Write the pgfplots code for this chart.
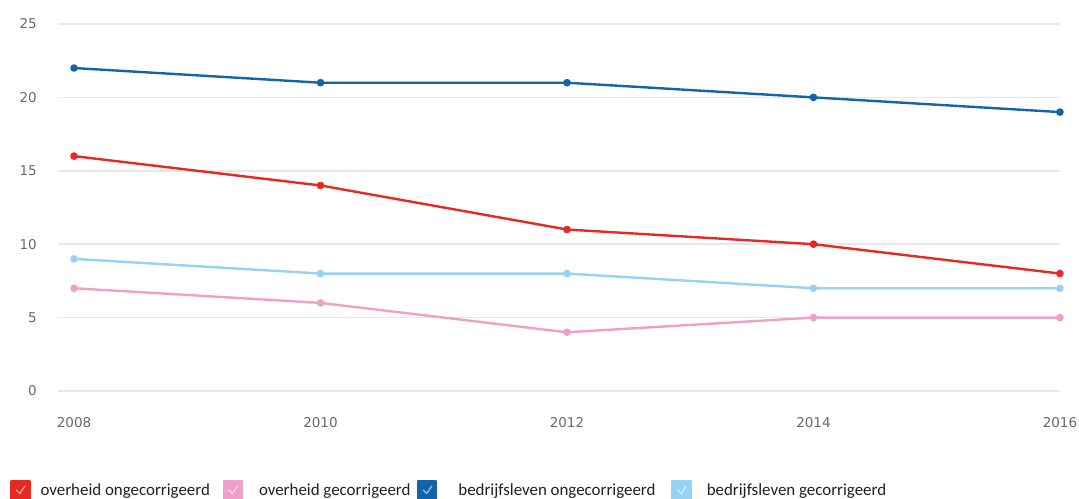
\documentclass[border=0pt]{standalone}
\usepackage{fontspec}
\setmainfont{Carlito}
\newfontfamily\tickfont{DejaVu Sans}
\usepackage{pgfplots}
\pgfplotsset{compat=1.18}
\definecolor{cred}{RGB}{232,40,34}
\definecolor{cpink}{RGB}{240,160,200}
\definecolor{cblue}{RGB}{18,100,172}
\definecolor{clblue}{RGB}{150,210,245}
\definecolor{cgrid}{RGB}{232,232,232}
\definecolor{ctick}{RGB}{105,105,105}
\definecolor{ctext}{RGB}{30,30,40}
\newcommand{\legbox}[1]{%
  \fill[#1] (0bp,-9bp) rectangle (18bp,9bp);
  \draw[white, opacity=0.6, line width=1.2bp, line cap=round, line join=round] (5bp,0bp) -- (8.5bp,-3.5bp) -- (13.5bp,4bp);}
\begin{document}
\begin{tikzpicture}[x=1bp,y=1bp]
\useasboundingbox (0,0) rectangle (1079,499);
\begin{axis}[
  at={(58bp,108bp)}, anchor=south west,
  scale only axis, width=1002bp, height=367bp,
  xmin=2007.87, xmax=2016, ymin=0, ymax=25,
  xtick={2008,2010,2012,2014,2016},
  ytick={0,5,10,15,20,25},
  xticklabel style={/pgf/number format/1000 sep={}, font=\fontsize{13.5bp}{15bp}\tickfont, text=ctick, inner sep=0pt, yshift=-26bp},
  yticklabel style={font=\fontsize{13.5bp}{15bp}\tickfont, text=ctick, inner sep=0pt, xshift=-21bp},
  /pgf/number format/assume math mode=true,
  major tick length=0pt,
  axis line style={draw=none},
  ymajorgrids, grid style={cgrid, line width=1.6bp},
  clip=false,
  legend columns=4,
  legend style={draw=none, fill=none, at={(-0.0479,-0.2698)}, anchor=west,
     inner sep=0pt, column sep=0pt, row sep=0pt,
     nodes={inner sep=0pt, anchor=west, font=\fontsize{16.9bp}{18bp}\selectfont, text=ctext}},
  legend cell align=left,
  every axis plot/.append style={line width=2.4bp, mark=*, mark size=2.6bp, line join=round},
]
\addplot[cred, mark options={fill=cred}, legend image code/.code={\legbox{cred}}] coordinates {(2008,16) (2010,14) (2012,11) (2014,10) (2016,8)};
\addlegendentry{\hspace{10bp}\makebox[182bp][l]{overheid ongecorrigeerd}}
\addplot[cpink, mark options={fill=cpink}, legend image code/.code={\legbox{cpink}}] coordinates {(2008,7) (2010,6) (2012,4) (2014,5) (2016,5)};
\addlegendentry{\hspace{16bp}\makebox[158bp][l]{overheid gecorrigeerd}}
\addplot[cblue, mark options={fill=cblue}, legend image code/.code={\legbox{cblue}}] coordinates {(2008,22) (2010,21) (2012,21) (2014,20) (2016,19)};
\addlegendentry{\hspace{21bp}\makebox[213bp][l]{bedrijfsleven ongecorrigeerd}}
\addplot[clblue, mark options={fill=clblue}, legend image code/.code={\legbox{clblue}}] coordinates {(2008,9) (2010,8) (2012,8) (2014,7) (2016,7)};
\addlegendentry{\hspace{15bp}bedrijfsleven gecorrigeerd}
\end{axis}
\end{tikzpicture}
\end{document}
